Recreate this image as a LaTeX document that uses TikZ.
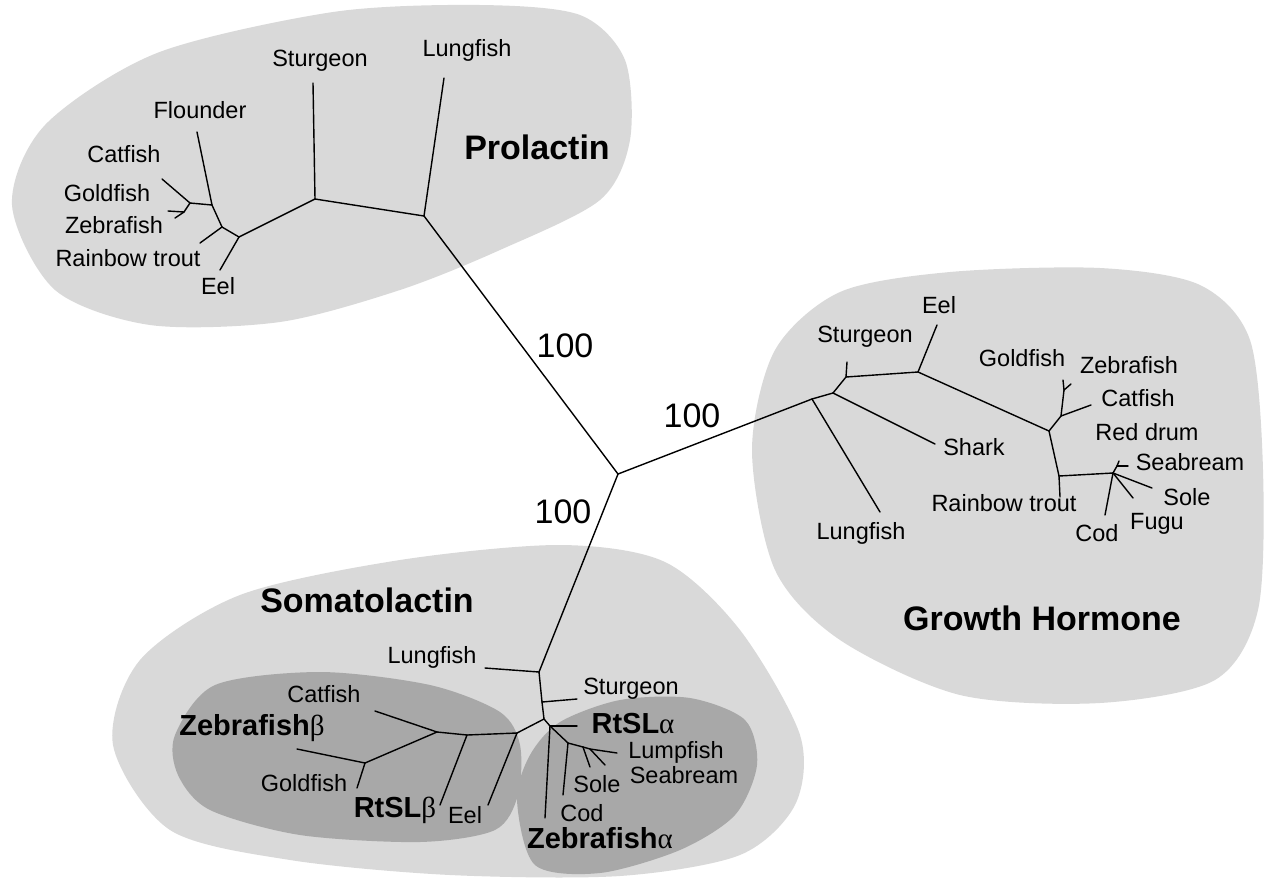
\documentclass[tikz,border=0pt]{standalone}
\usepackage{fontspec}
\setmainfont{Liberation Sans}
\newfontfamily\grk{Liberation Serif}
\usepackage{tikz}
\definecolor{lightblob}{gray}{0.85}
\definecolor{darkblob}{gray}{0.66}

\begin{document}
\begin{tikzpicture}[x=1pt, y=-1pt,
  lbl/.style={inner sep=0pt, font=\fontsize{23.5}{28}\selectfont},
  clade/.style={inner sep=0pt, font=\fontsize{34}{40}\selectfont\bfseries},
  form/.style={inner sep=0pt, font=\fontsize{29}{34}\selectfont\bfseries},
  boot/.style={inner sep=0pt, font=\fontsize{34}{40}\selectfont},
  branch/.style={line width=1.4pt, line cap=round, line join=round}
]
  \useasboundingbox (0,0) rectangle (1266,879);

  % Shaded groups
  \fill[lightblob] plot[smooth cycle] coordinates {(12,205) (45,125) (157,53) (333,12) (480,5) (580,15) (625,60) (630,140) (600,200) (500,250) (400,290) (280,322) (150,325) (55,290)};
  \fill[lightblob] plot[smooth cycle] coordinates {(752,450) (775,350) (840,292) (950,272) (1100,268) (1200,285) (1250,340) (1263,470) (1258,610) (1215,680) (1100,703) (960,695) (840,640) (775,570)};
  \fill[lightblob] plot[smooth cycle] coordinates {(113,745) (140,660) (240,595) (400,560) (560,545) (665,562) (740,630) (800,735) (795,805) (740,855) (620,876) (450,875) (290,860) (170,830)};
  \fill[darkblob] plot[smooth cycle] coordinates {(175,735) (215,685) (320,672) (430,685) (500,712) (520,745) (518,795) (495,830) (420,842) (300,835) (210,810) (178,775)};
  \fill[darkblob] plot[smooth cycle] coordinates {(517,800) (530,755) (560,722) (620,700) (690,698) (745,720) (757,765) (735,815) (680,850) (600,873) (535,865)};

  % Root
  \coordinate (root) at (618,474);

  % Prolactin branch points
  \coordinate (pl1) at (424,216);
  \coordinate (pl2) at (315,199);
  \coordinate (pl3) at (239,237);
  \coordinate (pl4) at (222,227);
  \coordinate (pl5) at (212,205);
  \coordinate (pl6) at (190,203);
  \coordinate (pl7) at (184,212);
  \coordinate (plLung) at (444,78);
  \coordinate (plStur) at (313,83);
  \coordinate (plEel) at (220,270);
  \coordinate (plTrout) at (200,243);
  \coordinate (plFloun) at (197,132);
  \coordinate (plCat) at (162,179);
  \coordinate (plGold) at (168,211);
  \coordinate (plZeb) at (175,218);

  % Growth hormone branch points
  \coordinate (gh1) at (812,399);
  \coordinate (gh2) at (833,393);
  \coordinate (gh3) at (846,377);
  \coordinate (gh4) at (918,372);
  \coordinate (gh5) at (1049,431);
  \coordinate (gh6) at (1061,416);
  \coordinate (gh7) at (1064,390);
  \coordinate (gh8) at (1059,476);
  \coordinate (gh9) at (1113,473);
  \coordinate (gh10) at (1117,466);
  \coordinate (ghLung) at (880,512);
  \coordinate (ghShark) at (935,444);
  \coordinate (ghStur) at (847,362);
  \coordinate (ghEel) at (937,325);
  \coordinate (ghCat) at (1091,405);
  \coordinate (ghGold) at (1063,380);
  \coordinate (ghZeb) at (1071,384);
  \coordinate (ghTrout) at (1060,497);
  \coordinate (ghCod) at (1105,515);
  \coordinate (ghDrum) at (1119,461);
  \coordinate (ghSea) at (1128,466);
  \coordinate (ghSole) at (1152,488);
  \coordinate (ghFugu) at (1133,498);

  % Somatolactin branch points
  \coordinate (sl1) at (539,672);
  \coordinate (sl2) at (542,702);
  \coordinate (sl3) at (544,719);
  \coordinate (sl4) at (517,733);
  \coordinate (sl5) at (550,726);
  \coordinate (sl6) at (568,743);
  \coordinate (sl7) at (583,747);
  \coordinate (sl8) at (590,749);
  \coordinate (slb1) at (437,732);
  \coordinate (slb2) at (467,735);
  \coordinate (slb3) at (365,763);
  \coordinate (slLung) at (485,668);
  \coordinate (slStur) at (577,699);
  \coordinate (slEel) at (488,805);
  \coordinate (slRtb) at (440,805);
  \coordinate (slCat) at (375,711);
  \coordinate (slGold) at (357,788);
  \coordinate (slZebb) at (297,749);
  \coordinate (slRta) at (577,726);
  \coordinate (slZeba) at (545,818);
  \coordinate (slCod) at (563,795);
  \coordinate (slLump) at (617,753);
  \coordinate (slSole) at (590,767);
  \coordinate (slSea) at (605,765);

  % Prolactin tree
  \draw[branch] (root) -- (pl1);
  \draw[branch] (pl1) -- (plLung);
  \draw[branch] (pl1) -- (pl2);
  \draw[branch] (pl2) -- (plStur);
  \draw[branch] (pl2) -- (pl3);
  \draw[branch] (pl3) -- (plEel);
  \draw[branch] (pl3) -- (pl4);
  \draw[branch] (pl4) -- (plTrout);
  \draw[branch] (pl4) -- (pl5);
  \draw[branch] (pl5) -- (plFloun);
  \draw[branch] (pl5) -- (pl6);
  \draw[branch] (pl6) -- (plCat);
  \draw[branch] (pl6) -- (pl7);
  \draw[branch] (pl7) -- (plGold);
  \draw[branch] (pl7) -- (plZeb);

  % Growth hormone tree
  \draw[branch] (root) -- (gh1);
  \draw[branch] (gh1) -- (ghLung);
  \draw[branch] (gh1) -- (gh2);
  \draw[branch] (gh2) -- (ghShark);
  \draw[branch] (gh2) -- (gh3);
  \draw[branch] (gh3) -- (ghStur);
  \draw[branch] (gh3) -- (gh4);
  \draw[branch] (gh4) -- (ghEel);
  \draw[branch] (gh4) -- (gh5);
  \draw[branch] (gh5) -- (gh6);
  \draw[branch] (gh6) -- (ghCat);
  \draw[branch] (gh6) -- (gh7);
  \draw[branch] (gh7) -- (ghGold);
  \draw[branch] (gh7) -- (ghZeb);
  \draw[branch] (gh5) -- (gh8);
  \draw[branch] (gh8) -- (ghTrout);
  \draw[branch] (gh8) -- (gh9);
  \draw[branch] (gh9) -- (ghCod);
  \draw[branch] (gh9) -- (gh10);
  \draw[branch] (gh10) -- (ghDrum);
  \draw[branch] (gh10) -- (ghSea);
  \draw[branch] (gh9) -- (ghSole);
  \draw[branch] (gh9) -- (ghFugu);

  % Somatolactin tree
  \draw[branch] (root) -- (sl1);
  \draw[branch] (sl1) -- (slLung);
  \draw[branch] (sl1) -- (sl2);
  \draw[branch] (sl2) -- (slStur);
  \draw[branch] (sl2) -- (sl3);
  \draw[branch] (sl3) -- (sl4);
  \draw[branch] (sl4) -- (slEel);
  \draw[branch] (sl4) -- (slb2);
  \draw[branch] (slb2) -- (slRtb);
  \draw[branch] (slb2) -- (slb1);
  \draw[branch] (slb1) -- (slCat);
  \draw[branch] (slb1) -- (slb3);
  \draw[branch] (slb3) -- (slGold);
  \draw[branch] (slb3) -- (slZebb);
  \draw[branch] (sl3) -- (sl5);
  \draw[branch] (sl5) -- (slRta);
  \draw[branch] (sl5) -- (slZeba);
  \draw[branch] (sl5) -- (sl6);
  \draw[branch] (sl6) -- (slCod);
  \draw[branch] (sl6) -- (sl7);
  \draw[branch] (sl7) -- (sl8);
  \draw[branch] (sl8) -- (slLump);
  \draw[branch] (sl7) -- (slSole);
  \draw[branch] (sl8) -- (slSea);

  % Bootstrap values
  \node[boot] (bootPl) at (565,346) {100};
  \node[boot] (bootGh) at (692,416) {100};
  \node[boot] (bootSl) at (563,512) {100};

  % Prolactin labels
  \node[clade] (prl) at (537,147) {Prolactin};
  \node[lbl] (plLungT) at (467,50) {Lungfish};
  \node[lbl] (plSturT) at (320,61) {Sturgeon};
  \node[lbl] (plFlounT) at (200,110) {Flounder};
  \node[lbl] (plCatT) at (124,154) {Catfish};
  \node[lbl] (plGoldT) at (107,193) {Goldfish};
  \node[lbl] (plZebT) at (114,225) {Zebrafish};
  \node[lbl] (plTroutT) at (128,258) {Rainbow trout};
  \node[lbl] (plEelT) at (218,286) {Eel};

  % Growth hormone labels
  \node[clade] (gh) at (1042,618) {Growth Hormone};
  \node[lbl] (ghEelT) at (939,305) {Eel};
  \node[lbl] (ghSturT) at (865,337) {Sturgeon};
  \node[lbl] (ghSharkT) at (974,447) {Shark};
  \node[lbl] (ghLungT) at (861,533) {Lungfish};
  \node[lbl] (ghGoldT) at (1022,358) {Goldfish};
  \node[lbl] (ghZebT) at (1129,365) {Zebrafish};
  \node[lbl] (ghCatT) at (1138,398) {Catfish};
  \node[lbl] (ghDrumT) at (1147,432) {Red drum};
  \node[lbl] (ghSeaT) at (1190,462) {Seabream};
  \node[lbl] (ghSoleT) at (1187,497) {Sole};
  \node[lbl] (ghFuguT) at (1157,524) {Fugu};
  \node[lbl] (ghCodT) at (1097,533) {Cod};
  \node[lbl] (ghTroutT) at (1004,503) {Rainbow trout};

  % Somatolactin labels
  \node[clade] (sl) at (367,600) {Somatolactin};
  \node[lbl] (slLungT) at (432,657) {Lungfish};
  \node[lbl] (slCatT) at (324,694) {Catfish};
  \node[form] (slZebbT) at (252,728) {Zebrafish{\grk\mdseries β}};
  \node[lbl] (slGoldT) at (304,783) {Goldfish};
  \node[form] (slRtbT) at (395,810) {RtSL{\grk\mdseries β}};
  \node[lbl] (slEelT) at (465,815) {Eel};
  \node[lbl] (slSturT) at (631,689) {Sturgeon};
  \node[form] (slRtaT) at (633,724) {RtSL{\grk\mdseries α}};
  \node[lbl] (slLumpT) at (676,752) {Lumpfish};
  \node[lbl] (slSeaT) at (684,775) {Seabream};
  \node[lbl] (slSoleT) at (597,784) {Sole};
  \node[lbl] (slCodT) at (582,813) {Cod};
  \node[form] (slZebaT) at (600,838) {Zebrafish{\grk\mdseries α}};

\end{tikzpicture}
\end{document}
